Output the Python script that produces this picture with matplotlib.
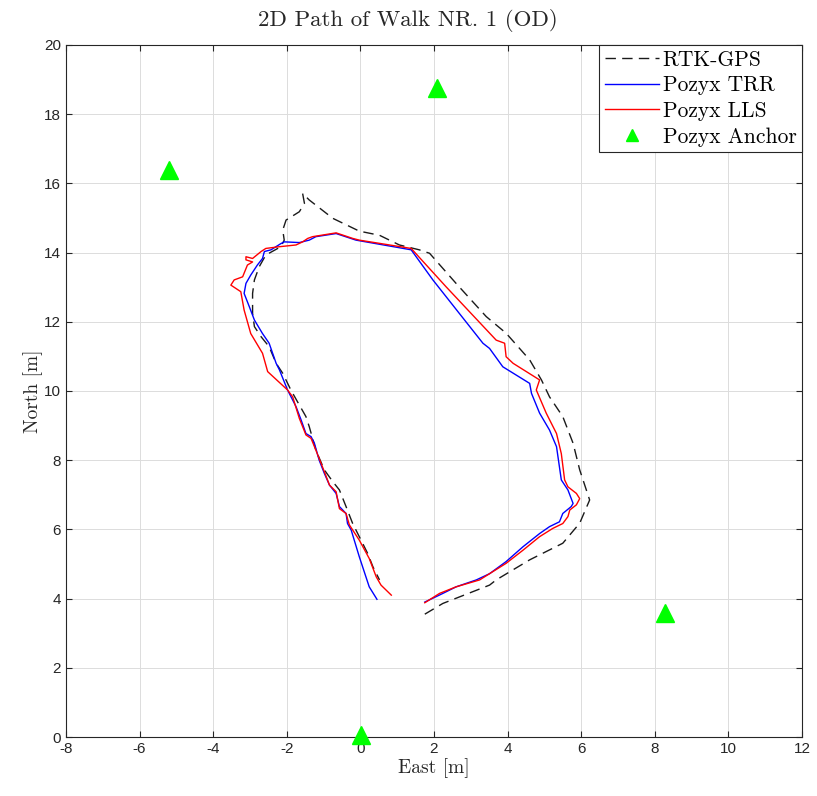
import matplotlib
matplotlib.use("Agg")
import matplotlib.pyplot as plt

plt.rcParams["axes.unicode_minus"] = False
plt.rcParams["font.family"] = ["Liberation Sans", "DejaVu Sans"]

# RTK-GPS reference track (east, north) in metres
rtk_e = [1.75, 2.24, 3.51, 3.69, 4.6, 5.5, 5.96, 6.23, 5.96, 5.78, 5.5, 5.14,
         4.92, 4.6, 3.96, 3.42, 2.6, 1.88, 1.6, 1.06, 0.52, -0.03, -0.75, -1.39,
         -1.57, -1.52, -1.66, -2.02, -2.11, -2.07, -2.16, -2.57, -2.75, -2.88,
         -2.93, -2.93, -2.88, -2.7, -2.48, -2.29, -2.11, -1.89, -1.71, -1.48,
         -1.39, -1.21, -0.98, -0.75, -0.57, -0.39, -0.21, 0.06, 0.2, 0.34, 0.52]
rtk_n = [3.55, 3.86, 4.39, 4.54, 5.12, 5.6, 6.18, 6.85, 7.72, 8.49, 9.26, 9.83,
         10.32, 10.9, 11.67, 12.15, 13.11, 13.98, 14.08, 14.22, 14.5, 14.62,
         14.99, 15.52, 15.71, 15.42, 15.18, 14.94, 14.65, 14.36, 14.17, 13.93,
         13.59, 13.21, 12.82, 12.24, 11.86, 11.57, 11.28, 10.8, 10.51, 10.03,
         9.69, 9.26, 8.97, 8.29, 7.72, 7.38, 7.14, 6.66, 6.17, 5.6, 5.3, 4.92, 4.54]

# Pozyx trilateration (TRR) estimate
trr_e = [1.75, 2.24, 2.6, 3.15, 3.51, 3.96, 4.42, 4.87, 5.14, 5.41, 5.5, 5.73,
         5.78, 5.64, 5.46, 5.33, 5.14, 4.87, 4.65, 4.6, 3.87, 3.51, 3.33, 2.69,
         1.97, 1.38, -0.12, -0.66, -1.21, -1.39, -1.66, -2.07, -2.16, -2.43,
         -2.61, -2.66, -2.8, -2.98, -3.11, -3.16, -3.02, -2.88, -2.66, -2.48,
         -2.29, -2.2, -1.98, -1.75, -1.61, -1.48, -1.34, -1.25, -1.12, -0.98,
         -0.84, -0.66, -0.57, -0.39, -0.35, -0.25, -0.03, 0.24, 0.45]
trr_n = [3.9, 4.15, 4.34, 4.54, 4.72, 5.07, 5.5, 5.88, 6.08, 6.22, 6.46, 6.66,
         6.75, 7.14, 7.43, 8.39, 8.87, 9.36, 9.93, 10.22, 10.7, 11.23, 11.38,
         12.24, 13.21, 14.08, 14.36, 14.55, 14.46, 14.36, 14.29, 14.31, 14.26,
         14.08, 14.03, 13.83, 13.64, 13.35, 13.11, 12.82, 12.44, 12.05, 11.66,
         11.38, 10.8, 10.61, 10.03, 9.55, 9.16, 8.77, 8.68, 8.49, 8.0, 7.62,
         7.28, 7.04, 6.66, 6.46, 6.17, 5.98, 5.21, 4.34, 3.98]

# Pozyx linear least squares (LLS) estimate
lls_e = [1.75, 2.15, 2.6, 3.24, 3.6, 3.96, 4.42, 4.87, 5.23, 5.5, 5.64, 5.69,
         5.87, 5.96, 5.87, 5.64, 5.55, 5.46, 5.33, 5.05, 4.78, 4.87, 4.15, 3.96,
         3.92, 3.69, 2.33, 1.38, -0.03, -0.21, -0.66, -1.3, -1.43, -1.57, -1.75,
         -2.2, -2.57, -2.7, -2.93, -3.11, -3.11, -2.93, -3.07, -3.2, -3.43,
         -3.52, -3.25, -3.16, -2.98, -2.66, -2.52, -1.98, -1.84, -1.66, -1.48,
         -1.34, -1.21, -0.98, -0.84, -0.66, -0.57, -0.39, -0.3, -0.03, 0.24,
         0.43, 0.56, 0.84]
lls_n = [3.88, 4.15, 4.34, 4.54, 4.78, 5.02, 5.4, 5.79, 6.03, 6.17, 6.37, 6.56,
         6.71, 6.89, 7.04, 7.23, 7.43, 8.19, 8.77, 9.36, 10.03, 10.32, 10.8,
         10.99, 11.38, 11.47, 13.01, 14.12, 14.36, 14.41, 14.57, 14.46, 14.41,
         14.31, 14.22, 14.17, 14.12, 14.03, 13.83, 13.88, 13.79, 13.73, 13.64,
         13.3, 13.21, 13.06, 12.87, 12.34, 11.66, 11.09, 10.56, 10.03, 9.83,
         9.21, 8.73, 8.63, 8.29, 7.67, 7.28, 7.09, 6.6, 6.46, 6.13, 5.69, 5.16,
         4.63, 4.39, 4.1]

# anchor positions
anchor_e = [-5.2, 2.07, 8.27, 0.02]
anchor_n = [16.4, 18.76, 3.57, 0.06]

fig = plt.figure(figsize=(8.17, 7.96), dpi=100)
ax = fig.add_axes([0.0808, 0.0741, 0.9008, 0.8694])

ax.plot(rtk_e, rtk_n, color="#1a1a1a", linestyle=(0, (7.5, 4.5)),
        linewidth=1.0, label="RTK-GPS")
ax.plot(trr_e, trr_n, color="blue", linewidth=1.0, label="Pozyx TRR")
ax.plot(lls_e, lls_n, color="red", linewidth=1.0, label="Pozyx LLS")
ax.plot(anchor_e, anchor_n, linestyle="none", marker="^", markersize=13,
        color="#00ff00", label="Pozyx Anchor", clip_on=False, zorder=5)

ax.set_xlim(-8, 12)
ax.set_ylim(0, 20)
ax.set_xticks(range(-8, 13, 2))
ax.set_yticks(range(0, 21, 2))
ax.grid(True, color="#dcdcdc", linewidth=0.7)
ax.tick_params(direction="in", top=True, right=True, labelsize=11,
               colors="#262626", length=4)
for s in ax.spines.values():
    s.set_color("#262626")
    s.set_linewidth(0.8)

serif = dict(family="cmr10", color="#262626")
ax.set_title("2D Path of Walk NR. 1 (OD)", fontsize=16.5, pad=14, x=0.465,
             **serif)
ax.set_xlabel("East [m]", fontsize=14, labelpad=2, **serif)
ax.set_ylabel("North [m]", fontsize=14, labelpad=1, **serif)

leg = ax.legend(loc="upper right", borderaxespad=0, fancybox=False,
                framealpha=1, edgecolor="#262626", handlelength=2.55,
                handletextpad=0.15, borderpad=0.25, labelspacing=0.28,
                prop={"family": "cmr10", "size": 15.5})
leg.get_frame().set_linewidth(0.8)
leg.legend_handles[3].set_markersize(8)

fig.savefig("out.png", dpi=100)
